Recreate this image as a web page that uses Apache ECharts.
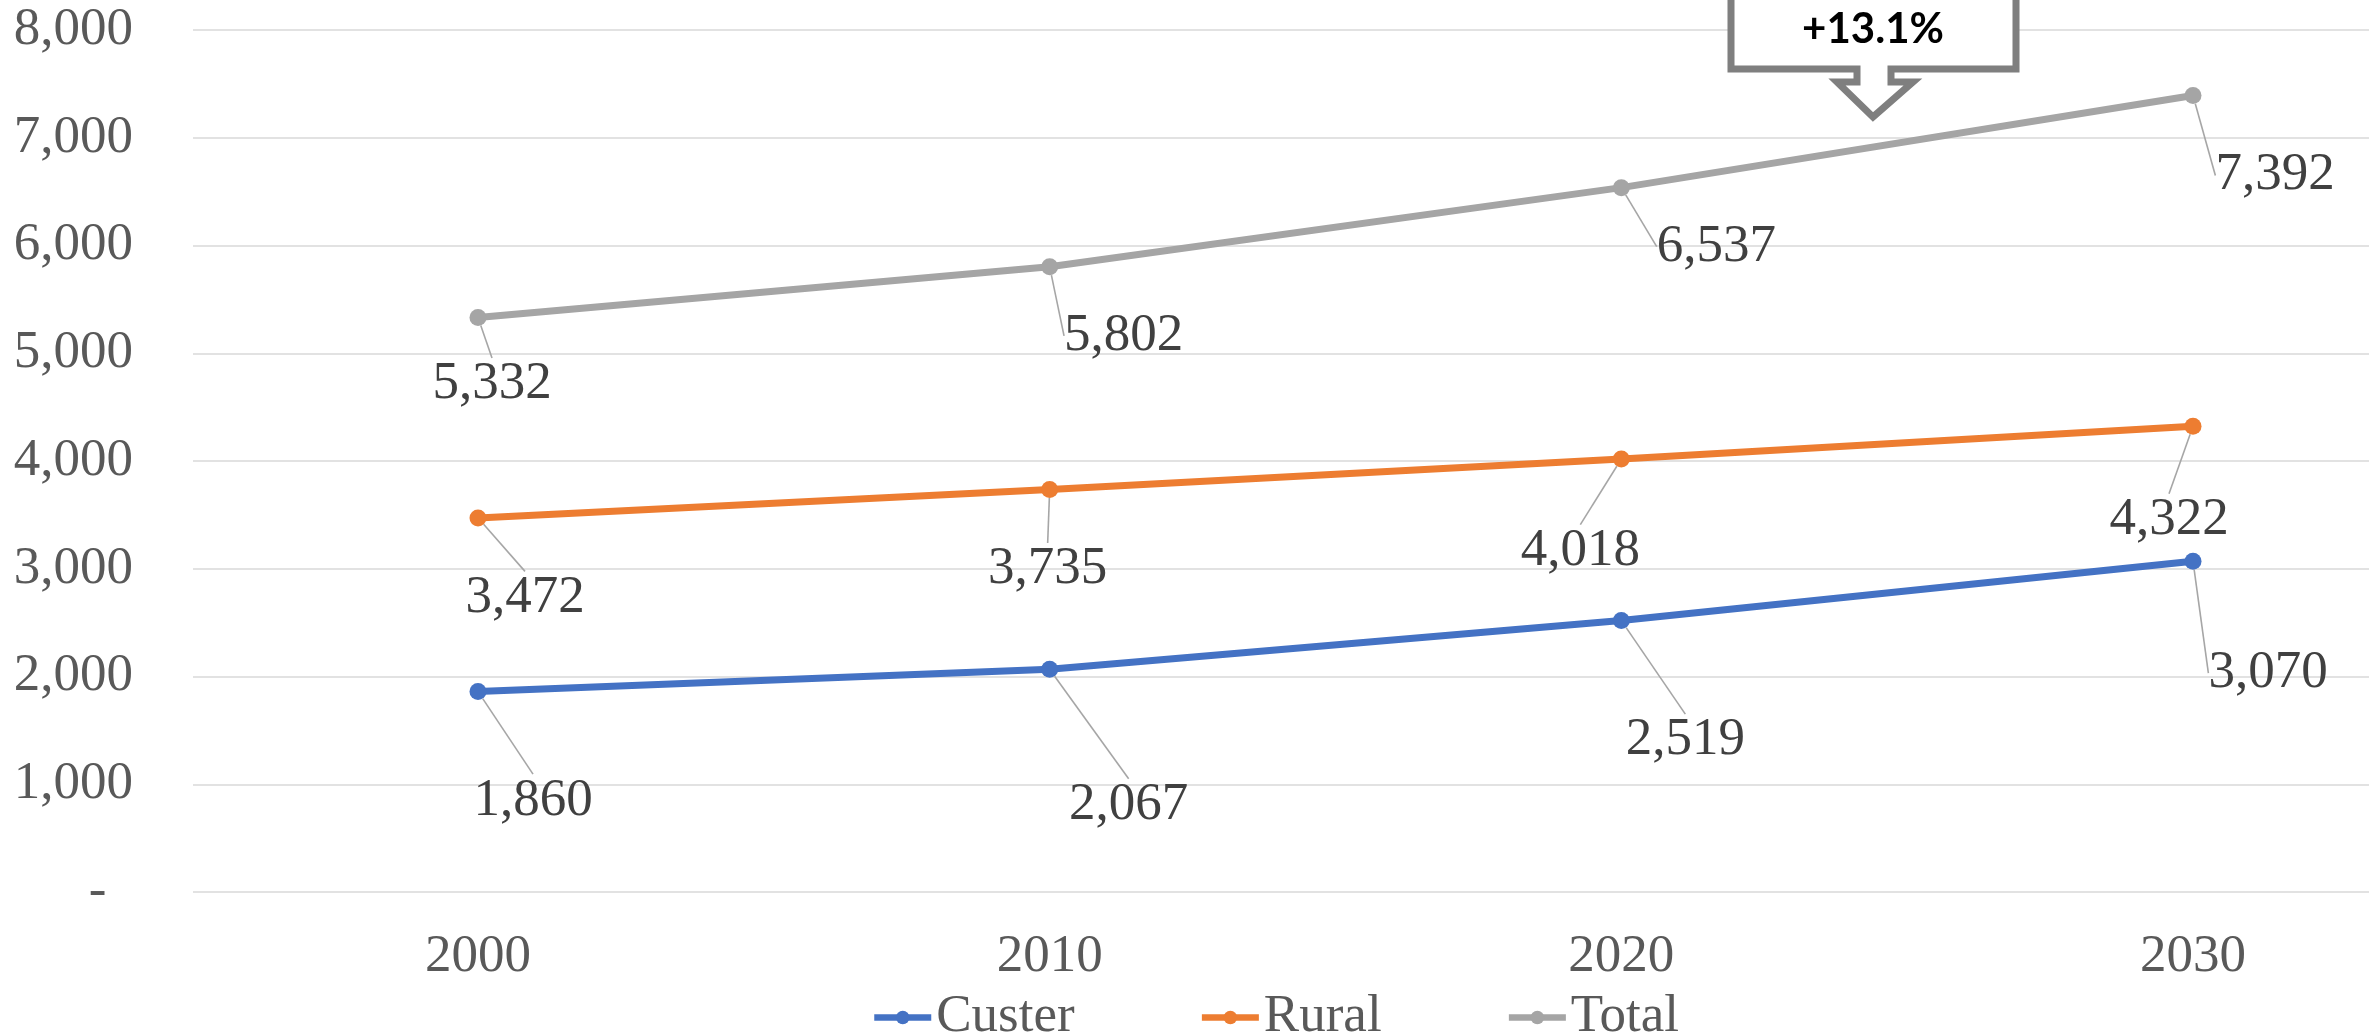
<!DOCTYPE html>
<html>
<head>
<meta charset="utf-8">
<script src="https://cdn.jsdelivr.net/npm/echarts@6/dist/echarts.min.js"></script>
<style>
  html, body { margin: 0; padding: 0; background: #ffffff; }
  #chart { width: 2369px; height: 1036px; }
</style>
</head>
<body>
<div id="chart"></div>
<script>
// ---- data ----
const years = ['2000', '2010', '2020', '2030'];
const seriesNames = ['Custer', 'Rural', 'Total'];
const custer = [1860, 2067, 2519, 3070];
const rural = [3472, 3735, 4018, 4322];
const total = [5332, 5802, 6537, 7392];
const calloutText = '+13.1%';

// ---- styling / label placement (offsets of label centre from its point) ----
const colors = ['#4472C4', '#ED7D31', '#A5A5A5'];
const labelOffsets = [
  [[55, 109], [79, 136], [64, 120], [75, 112]],   // Custer
  [[47, 80], [-2, 80], [-41, 92], [-24, 94]],     // Rural
  [[14, 67], [74, 69], [95, 59], [82, 80]]        // Total
];
const FONT = '"Liberation Serif", "Times New Roman", serif';
const FS = 53;

const chart = echarts.init(document.getElementById('chart'), null, { renderer: 'canvas' });

function fmt(v) {
  return v.toString().replace(/\B(?=(\d{3})+(?!\d))/g, ',');
}

function makeSeries(name, data, idx) {
  return {
    name: name,
    type: 'line',
    xAxisIndex: 0,
    yAxisIndex: 0,
    data: data,
    color: colors[idx],
    symbol: 'circle',
    symbolSize: 17,
    lineStyle: { width: 7, color: colors[idx] },
    itemStyle: { color: colors[idx] },
    label: {
      show: true,
      position: 'inside',
      formatter: p => fmt(p.value),
      fontFamily: FONT,
      fontSize: FS,
      color: '#404040'
    },
    labelLine: {
      show: true,
      showAbove: false,
      lineStyle: { color: '#A6A6A6', width: 1.6 }
    },
    labelLayout: function (p) {
      const off = labelOffsets[idx][p.dataIndex];
      const cx = p.rect.x + p.rect.width / 2;
      const cy = p.rect.y + p.rect.height / 2;
      return { x: cx + off[0], y: cy + off[1], align: 'center', verticalAlign: 'middle' };
    },
    emphasis: { disabled: true },
    animation: false,
    z: 3 + idx
  };
}

const option = {
  backgroundColor: '#ffffff',
  animation: false,
  grid: [
    { left: 478, top: 30, width: 1715, height: 862, outerBoundsMode: 'none' },
    { left: 193, top: 30, right: 0, height: 862, outerBoundsMode: 'none' }
  ],
  xAxis: [
    {
      type: 'category',
      gridIndex: 0,
      data: years,
      boundaryGap: false,
      axisLine: { show: false },
      axisTick: { show: false },
      axisLabel: { fontFamily: FONT, fontSize: FS, color: '#595959', margin: 39 },
      splitLine: { show: false }
    },
    { type: 'value', gridIndex: 1, min: 0, max: 1, show: false }
  ],
  yAxis: [
    {
      type: 'value',
      gridIndex: 0,
      min: 0,
      max: 8000,
      interval: 1000,
      show: false,
      splitLine: { show: false }
    },
    {
      type: 'value',
      gridIndex: 1,
      min: 0,
      max: 8000,
      interval: 1000,
      axisLine: { show: false },
      axisTick: { show: false },
      axisLabel: {
        fontFamily: FONT,
        fontSize: FS,
        color: '#595959',
        margin: 60,
        formatter: v => (v === 0 ? '-  ' : fmt(v))
      },
      splitLine: { lineStyle: { color: '#D9D9D9', width: 1.5 } }
    }
  ],
  legend: {
    data: seriesNames,
    left: 866,
    top: 986,
    itemWidth: 57,
    itemHeight: 17,
    itemGap: 124,
    lineStyle: { width: 6.5 },
    textStyle: { fontFamily: FONT, fontSize: FS, color: '#595959' },
    selectedMode: false
  },
  series: [
    makeSeries('Custer', custer, 0),
    makeSeries('Rural', rural, 1),
    makeSeries('Total', total, 2)
  ],
  graphic: [
    {
      type: 'polygon',
      z: 100,
      shape: {
        points: [
          [1731, -20], [2016, -20], [2016, 69], [1891, 69], [1891, 82],
          [1913, 82], [1873, 117], [1837, 82], [1857, 82], [1857, 69], [1731, 69]
        ]
      },
      style: { fill: '#ffffff', stroke: '#7F7F7F', lineWidth: 7, lineJoin: 'miter' }
    },
    {
      type: 'text',
      z: 101,
      x: 1873,
      y: 29,
      style: {
        text: calloutText,
        fontFamily: 'Lato, "Open Sans", sans-serif',
        fontWeight: 'bold',
        fontSize: 42,
        fill: '#000000',
        align: 'center',
        verticalAlign: 'middle'
      }
    }
  ]
};

chart.setOption(option);
</script>
</body>
</html>
